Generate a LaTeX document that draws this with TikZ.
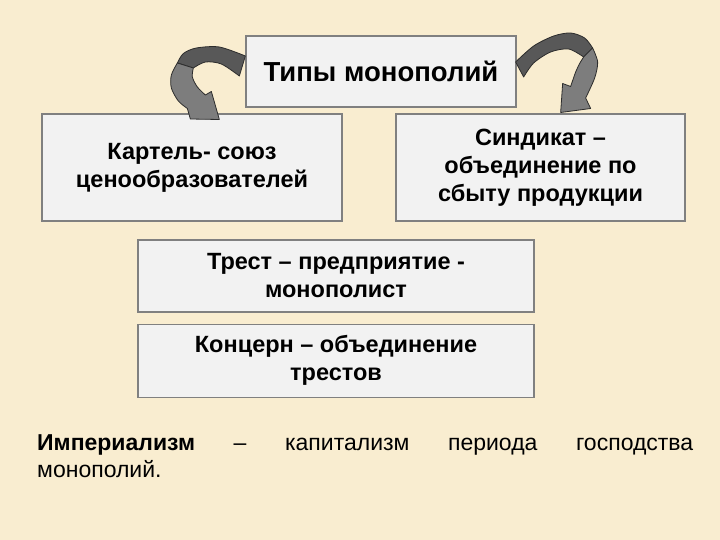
\documentclass[tikz,border=0pt]{standalone}
\usepackage{fontspec}
\setmainfont{Liberation Sans}
\usepackage{tikz}
\usetikzlibrary{positioning}
\definecolor{parchment}{RGB}{249,237,208}
\definecolor{boxfill}{RGB}{242,242,242}
\definecolor{boxline}{RGB}{128,128,128}
\definecolor{arrowdark}{RGB}{88,88,88}
\definecolor{arrowlight}{RGB}{125,125,125}
\definecolor{arrowline}{RGB}{45,45,45}
\pgfkeys{tikz/typebox/.style={draw=boxline,line width=1.3pt,fill=boxfill,align=center,inner sep=0pt,font=\fontsize{23.5}{28}\selectfont\bfseries}}
\pgfkeys{tikz/bandpart/.style={draw=arrowline,line width=0.8pt,line join=round}}

\begin{document}
\begin{tikzpicture}[x=1pt,y=-1pt]
    \fill[parchment] (0,0) rectangle (720,540);
    \useasboundingbox (0,0) rectangle (720,540);
    \node[typebox,minimum width=270pt,minimum height=71pt,font=\fontsize{27.5}{30}\selectfont\bfseries] (types) at (381,71.5) {Типы монополий};
    \node[typebox,minimum width=300pt,minimum height=107pt] (cartel) at (192,167.5) {Картель- союз\\ценообразователей};
    \node[typebox,minimum width=289pt,minimum height=107pt] (syndicate) at (540.5,167.5) {Синдикат –\\объединение по\\сбыту продукции};
    \node[typebox,minimum width=396pt,minimum height=72pt] (trust) at (336,276) {Трест – предприятие -\\монополист};
    \node[typebox,minimum width=396pt,minimum height=73pt,below=11pt of trust] (concern) {Концерн – объединение\\трестов};
    % curved arrow to the cartel
    \begin{scope}[shift={(types.west)}]
        \filldraw[bandpart,fill=arrowdark] plot[smooth] coordinates {(0,-15.5) (-26,-24.5) (-49,-23.5) (-62,-18) (-68,-8.5)}
            -- plot[smooth] coordinates {(-52,-3.5) (-40,-9.5) (-24,-7.5) (-6,4.5)} -- cycle;
        \filldraw[bandpart,fill=arrowlight] plot[smooth] coordinates {(-68,-8.5) (-74,3.5) (-74,16.5) (-67,29.5) (-58,37)}
            -- (-55,47.5) -- (-26,48) -- (-34,20) -- (-40,23.5)
            -- plot[smooth] coordinates {(-40,23.5) (-48,15.5) (-53,5.5) (-52,-3.5)} -- cycle;
    \end{scope}
    % curved arrow to the syndicate
    \begin{scope}[shift={(types.east)}]
        \filldraw[bandpart,fill=arrowdark] plot[smooth] coordinates {(-1,-9.5) (17,-25.5) (37,-35.5) (54,-38.5) (68,-33.5) (76,-23.5)}
            -- plot[smooth] coordinates {(67,-14.5) (52,-22.5) (34,-19.5) (17,-8.5) (7,5.5)} -- cycle;
        \filldraw[bandpart,fill=arrowlight] plot[smooth] coordinates {(76,-23.5) (81,-9.5) (78,6.5) (69,26.5)}
            -- (74,37) -- (44,41) -- (46,12) -- (54,15)
            -- plot[smooth] coordinates {(54,15) (59,0.5) (63,-8) (67,-14.5)} -- cycle;
    \end{scope}
    \node[anchor=north west,inner sep=0pt,text width=656pt,align=justify,font=\fontsize{23}{27}\selectfont] (imperialism) at (37,434.5)
        {\textbf{Империализм} – капитализм периода господства\linebreak монополий.};
\end{tikzpicture}
\end{document}
